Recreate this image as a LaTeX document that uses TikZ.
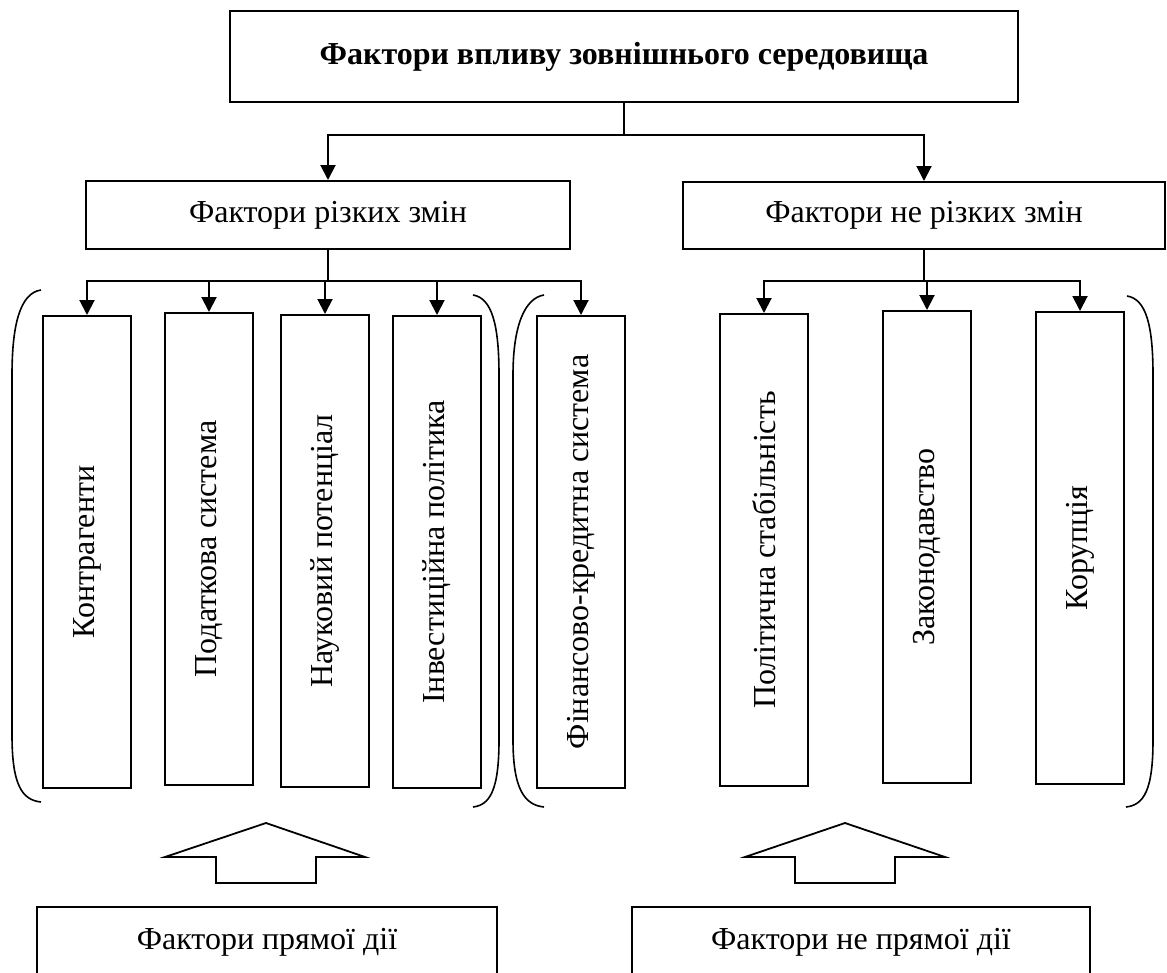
\documentclass[tikz,border=0pt]{standalone}
\usepackage{fontspec}
\setmainfont{Liberation Serif}
\usetikzlibrary{arrows.meta}
\begin{document}
\begin{tikzpicture}[x=1pt,y=-1pt,
  line width=2pt,
  box/.style={draw, line width=2pt, inner sep=0pt, align=center, font=\fontsize{32}{38}\selectfont},
  sbox/.style={box, minimum width=88pt, minimum height=472pt},
  bbox/.style={box, anchor=north, inner ysep=0pt, text height=42pt, text depth=52pt},
  arr/.style={-{Triangle[length=15pt,width=15pt]}},
  brk/.style={line width=1.6pt},
  bigarrow/.style={line width=1.8pt}
]
\useasboundingbox (0,0) rectangle (1167,972);
\clip (0,0) rectangle (1167,972);

% top level
\node[box, minimum width=788pt, minimum height=91pt, font=\fontsize{32}{38}\selectfont\bfseries] (top) at (624,56.5) {Фактори впливу зовнішнього середовища};
\node[box, minimum width=484pt, minimum height=68pt] (left) at (328,215) {Фактори різких змін};
\node[box, minimum width=482pt, minimum height=67pt] (right) at (924,215.5) {Фактори не різких змін};

% small boxes
\node[sbox] (b1) at (87,552) {\rotatebox{90}{Контрагенти}};
\node[sbox] (b2) at (209,549) {\rotatebox{90}{Податкова система}};
\node[sbox] (b3) at (325,551) {\rotatebox{90}{Науковий потенціал}};
\node[sbox] (b4) at (437,552) {\rotatebox{90}{Інвестиційна політика}};
\node[sbox] (b5) at (581,552) {\rotatebox{90}{Фінансово-кредитна система}};
\node[sbox] (b6) at (764,550) {\rotatebox{90}{Політична стабільність}};
\node[sbox] (b7) at (927,547) {\rotatebox{90}{Законодавство}};
\node[sbox] (b8) at (1080,548) {\rotatebox{90}{Корупція}};

% bottom boxes
\node[bbox, minimum width=460pt] (pd) at (267,906) {Фактори прямої дії};
\node[bbox, minimum width=458pt] (npd) at (861,906) {Фактори не прямої дії};

% connectors
\coordinate (j1) at (624,135);
\draw (top.south) -- (j1);
\draw[arr] (j1) -| (left.north);
\draw[arr] (j1) -| (right.north);

\coordinate (j2) at (328,281);
\draw (left.south) -- (j2);
\foreach \b in {b1,b2,b3,b4,b5} \draw[arr] (j2) -| (\b.north);

\coordinate (j3) at (924,281);
\draw (right.south) -- (j3);
\foreach \b in {b6,b7,b8} \draw[arr] (j3) -| (\b.north);

% brackets
\draw[brk] (41,290) .. controls (20,293) and (12,325) .. (12,375) -- (12,735) .. controls (12,785) and (22,800) .. (41,802);
\draw[brk] (473,295) .. controls (492,298) and (499,325) .. (499,375) -- (499,740) .. controls (499,790) and (490,805) .. (473,807);
\draw[brk] (544,295) .. controls (525,298) and (513,325) .. (513,375) -- (513,740) .. controls (513,790) and (525,805) .. (544,807);
\draw[brk] (1127,296) .. controls (1146,299) and (1153,325) .. (1153,375) -- (1153,740) .. controls (1153,790) and (1144,805) .. (1126,807);

% big hollow arrows
\draw[bigarrow] (266,823) -- (365,857) -- (316,857) -- (316,883) -- (216,883) -- (216,857) -- (165,857) -- cycle;
\draw[bigarrow] (845,823) -- (945,857) -- (895,857) -- (895,883) -- (795,883) -- (795,857) -- (745,857) -- cycle;
\end{tikzpicture}
\end{document}
